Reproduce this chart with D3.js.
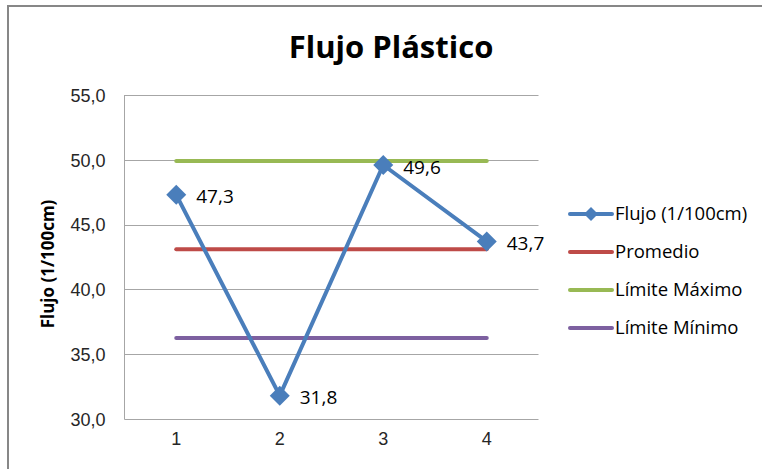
<!DOCTYPE html>
<html><head><meta charset="utf-8">
<script src="https://cdn.jsdelivr.net/npm/d3@7/dist/d3.min.js"></script>
<style>body{margin:0;background:#fff;}svg{display:block;font-family:"Open Sans","Noto Sans",sans-serif;}</style>
</head><body><svg id="c" width="762" height="469"></svg>
<script>
const categories = [1, 2, 3, 4];
const flujo = [47.3, 31.8, 49.6, 43.7];
const promedio = [43.1, 43.1, 43.1, 43.1];
const limMax = [49.9, 49.9, 49.9, 49.9];
const limMin = [36.25, 36.25, 36.25, 36.25];
const yTicks = [30, 35, 40, 45, 50, 55];
const seriesNames = ["Flujo (1/100cm)", "Promedio", "Límite Máximo", "Límite Mínimo"];
const colors = ["#4a7ebb", "#be4b48", "#98b954", "#7d60a0"];

const svg = d3.select("#c");
// outer frame
svg.append("rect").attr("x", 8).attr("y", 6).attr("width", 800).attr("height", 500)
  .attr("fill", "none").attr("stroke", "#878787").attr("stroke-width", 2);

const L = 124.5, R = 538.5, T = 95, B = 419;
const x = d3.scaleBand().domain(categories).range([L, R]);
const xc = d => x(d) + x.bandwidth() / 2;
const y = d3.scaleLinear().domain([30, 55]).range([B, T]);
const fmt = v => d3.format(".1f")(v).replace(".", ",");
const diamondPath = h => `M0,${-h}L${h},0L0,${h}L${-h},0Z`;

// gridlines
svg.append("g").selectAll("line").data(yTicks).join("line")
  .attr("x1", L).attr("x2", R).attr("y1", d => Math.round(y(d)) + 0.5).attr("y2", d => Math.round(y(d)) + 0.5)
  .attr("stroke", "#a6a6a6").attr("stroke-width", 1);
svg.append("line").attr("x1", L).attr("x2", L).attr("y1", T).attr("y2", B + 0.5)
  .attr("stroke", "#a6a6a6");

// y axis
const yAxis = d3.axisLeft(y).tickValues(yTicks).tickFormat(fmt).tickSize(0).tickPadding(19);
const gy = svg.append("g").attr("transform", `translate(${L},0)`).call(yAxis);
gy.select(".domain").remove();
gy.selectAll("text").attr("font-size", 18).attr("fill", "#262626").attr("dy", "0.35em");

// x axis
const xAxis = d3.axisBottom(x).tickSize(0).tickPadding(13);
const gx = svg.append("g").attr("transform", `translate(0,${B})`).call(xAxis);
gx.select(".domain").remove();
gx.selectAll("text").attr("font-size", 18).attr("fill", "#262626");

// title
svg.append("text").attr("x", 391).attr("y", 58).attr("text-anchor", "middle")
  .attr("font-size", 31).attr("font-weight", "bold").attr("fill", "#000").text("Flujo Plástico");
// y title
svg.append("text").attr("transform", `translate(54,${(T + B) / 2 + 7}) rotate(-90)`).attr("text-anchor", "middle")
  .attr("font-size", 17).attr("font-weight", "bold").attr("fill", "#000").text("Flujo (1/100cm)");

const line = d3.line().x((d, i) => xc(categories[i])).y(d => y(d));
const series = [flujo, promedio, limMax, limMin];
[1, 2, 3].forEach(k => {
  svg.append("path").attr("d", line(series[k])).attr("fill", "none")
    .attr("stroke", colors[k]).attr("stroke-width", 4).attr("stroke-linecap", "round");
});
svg.append("path").attr("d", line(flujo)).attr("fill", "none")
  .attr("stroke", colors[0]).attr("stroke-width", 4).attr("stroke-linejoin", "round");
svg.append("g").selectAll("path").data(flujo).join("path")
  .attr("transform", (d, i) => `translate(${xc(categories[i])},${y(d)})`)
  .attr("d", diamondPath(10)).attr("fill", colors[0]);
svg.append("g").selectAll("text").data(flujo).join("text")
  .attr("x", (d, i) => xc(categories[i]) + 20).attr("y", d => y(d) + 2).attr("dy", "0.35em")
  .attr("font-size", 19).attr("fill", "#000").text(fmt);

// legend
const lg = svg.append("g");
seriesNames.forEach((n, i) => {
  const yy = 214 + i * 38;
  lg.append("line").attr("x1", 570).attr("x2", 612).attr("y1", yy).attr("y2", yy)
    .attr("stroke", colors[i]).attr("stroke-width", 4).attr("stroke-linecap", "round");
  if (i === 0) lg.append("path").attr("transform", `translate(591,${yy})`)
    .attr("d", diamondPath(7)).attr("fill", colors[0]);
  lg.append("text").attr("x", 615).attr("y", yy).attr("dy", "0.35em")
    .attr("font-size", 18.5).attr("fill", "#000").text(n);
});
</script></body></html>
